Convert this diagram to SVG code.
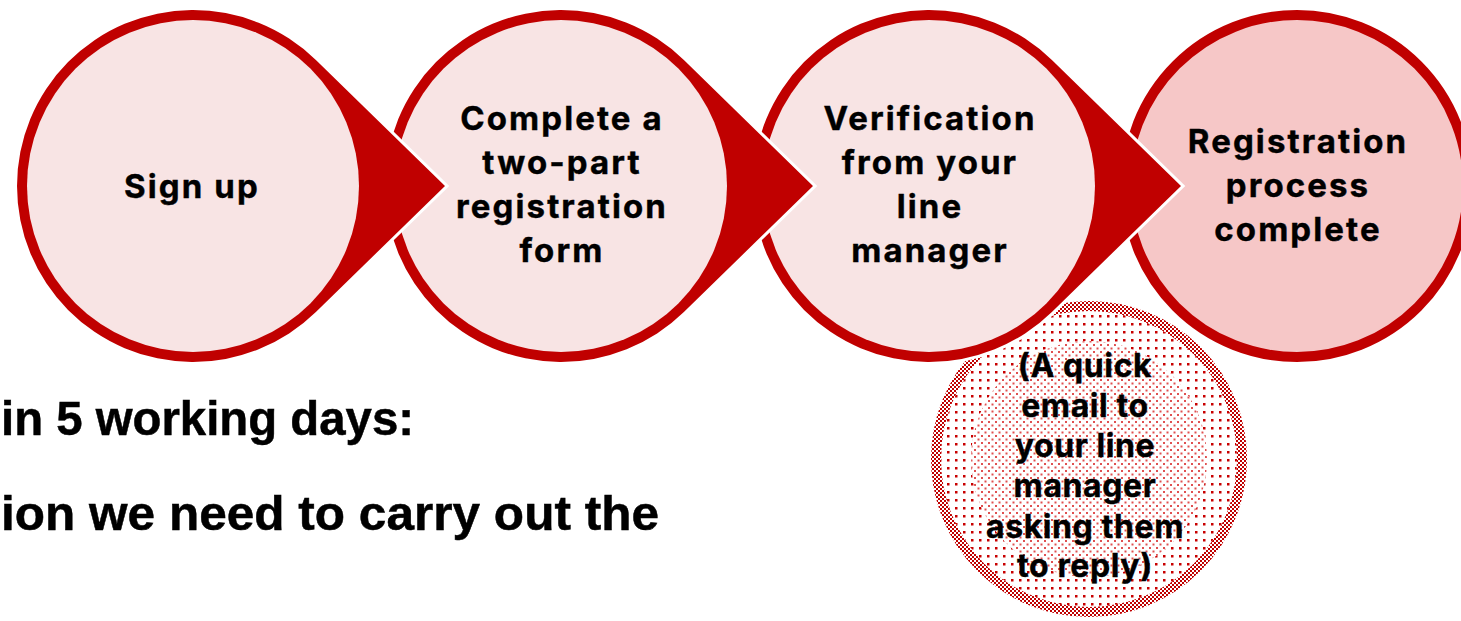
<svg xmlns="http://www.w3.org/2000/svg" width="1461" height="621" viewBox="0 0 1461 621">
<style>
.drop{fill:#C00000;stroke:#FFFFFF;stroke-width:6;paint-order:stroke;stroke-linejoin:miter}
.inner{fill:#F8E4E4}
.last{fill:#F6C7C7;stroke:#C00000;stroke-width:10}
.t{font-family:Inter,"Liberation Sans",sans-serif;font-weight:700;font-size:33px;fill:#000;text-anchor:middle;letter-spacing:2.1px;stroke:#000;stroke-width:0.4px}
.n{font-family:Inter,"Liberation Sans",sans-serif;font-weight:700;font-size:32px;fill:#000;text-anchor:middle;letter-spacing:0.6px;stroke:#000;stroke-width:0.4px}
.b{font-family:"Liberation Sans",Arial,sans-serif;font-weight:700;font-size:49px;fill:#000;stroke:#000;stroke-width:0.5px}
</style>
<defs>
<pattern id="checker" width="4" height="4" patternUnits="userSpaceOnUse"><rect width="2" height="2" fill="#C00000"/><rect x="2" y="2" width="2" height="2" fill="#C00000"/></pattern>
<pattern id="dots" width="8" height="8" patternUnits="userSpaceOnUse"><rect x="3" y="3" width="2.5" height="2.5" fill="#C80000"/></pattern>
<pattern id="dots2" width="7" height="7" patternUnits="userSpaceOnUse"><rect x="1" y="1" width="2" height="2" fill="#E05050"/><rect x="4.5" y="4.5" width="2" height="2" fill="#E05050"/></pattern>
</defs>
<rect width="1461" height="621" fill="#FFFFFF"/>
<g id="note">
<circle cx="1089" cy="459" r="153" fill="#FFFFFF" stroke="url(#checker)" stroke-width="10"/>
<circle cx="1089" cy="459" r="148" fill="url(#dots)"/>
<circle cx="1089" cy="459" r="118" fill="#FFFFFF"/>
<circle cx="1089" cy="459" r="118" fill="url(#dots2)"/>
<text class="n"><tspan x="1085" y="377">(A quick</tspan><tspan x="1085" y="417">email to</tspan><tspan x="1085" y="457">your line</tspan><tspan x="1085" y="497">manager</tspan><tspan x="1085" y="538">asking them</tspan><tspan x="1085" y="577">to reply)</tspan></text>
</g>
<g id="step4">
<circle class="last" cx="1297" cy="186" r="171"/>
<text class="t"><tspan x="1298" y="153">Registration</tspan><tspan x="1298" y="197">process</tspan><tspan x="1298" y="241">complete</tspan></text>
</g>
<g id="step3">
<path class="drop" d="M1051.9,60 L1181,186 L1051.9,312 A176 176 0 1 1 1051.9,60 Z"/>
<circle class="inner" cx="929" cy="186" r="166"/>
<text class="t"><tspan x="930" y="130">Verification</tspan><tspan x="930" y="174">from your</tspan><tspan x="930" y="218">line</tspan><tspan x="930" y="262">manager</tspan></text>
</g>
<g id="step2">
<path class="drop" d="M683.9,60 L813,186 L683.9,312 A176 176 0 1 1 683.9,60 Z"/>
<circle class="inner" cx="561" cy="186" r="166"/>
<text class="t"><tspan x="562" y="130">Complete a</tspan><tspan x="562" y="174">two-part</tspan><tspan x="562" y="218">registration</tspan><tspan x="562" y="262">form</tspan></text>
</g>
<g id="step1">
<path class="drop" d="M315.9,60 L445,186 L315.9,312 A176 176 0 1 1 315.9,60 Z"/>
<circle class="inner" cx="193" cy="186" r="166"/>
<text class="t" x="192" y="198">Sign up</text>
</g>
<g id="connectors"></g>
<g id="caption">
<text class="b" x="1" y="435" textLength="413" lengthAdjust="spacingAndGlyphs">in 5 working days:</text>
<text class="b" x="1" y="530" textLength="658" lengthAdjust="spacingAndGlyphs">ion we need to carry out the</text>
</g>
</svg>
